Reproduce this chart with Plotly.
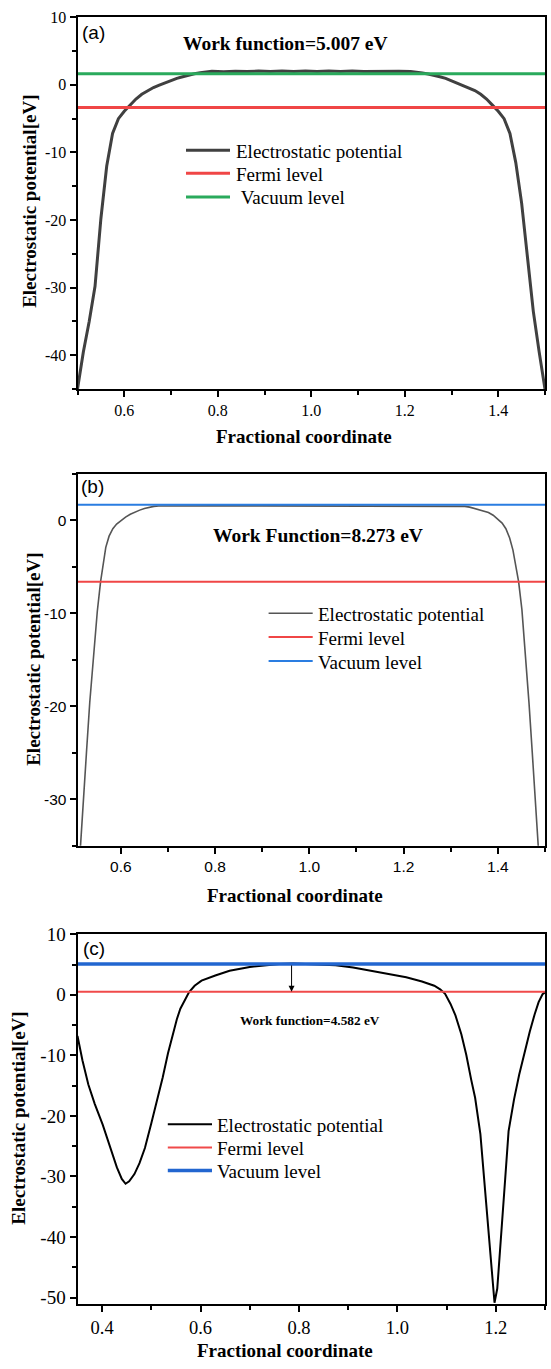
import plotly.graph_objects as go

# ---------------- data ----------------
# panel (a)
xa = [0.500, 0.5125, 0.525, 0.5375, 0.550, 0.5625, 0.575, 0.5875, 0.600, 0.6125,
      0.625, 0.6375, 0.650, 0.6625, 0.675, 0.6875, 0.700, 0.7125, 0.725, 0.7375,
      0.750, 0.7625, 0.775, 0.7875, 0.8125, 0.8375, 0.8625, 0.8875, 0.9125, 0.9375,
      0.9625, 0.9875, 1.0125, 1.0375, 1.0625, 1.0875, 1.1125, 1.1375, 1.1625, 1.1875,
      1.2125, 1.225, 1.2375, 1.250, 1.2625, 1.275, 1.2875, 1.300, 1.3125, 1.325,
      1.3375, 1.350, 1.3625, 1.375, 1.3875, 1.400, 1.4125, 1.425, 1.4375, 1.450,
      1.4625, 1.475, 1.4875, 1.500]
ya = [-45.0, -39.5, -35.0, -29.8, -19.8, -12.0, -7.2, -5.0, -3.9, -3.0,
      -2.1, -1.4, -0.85, -0.4, -0.05, 0.3, 0.6, 0.95, 1.2, 1.45,
      1.65, 1.78, 1.9, 2.0, 1.95, 2.02, 1.96, 2.03, 1.97, 2.04,
      1.97, 2.03, 1.97, 2.03, 1.96, 2.03, 1.97, 2.02, 1.96, 2.02,
      1.98, 1.9, 1.75, 1.6, 1.45, 1.2, 0.95, 0.6, 0.3, -0.05,
      -0.4, -0.85, -1.4, -2.1, -3.0, -3.9, -5.0, -7.2, -11.5, -17.5,
      -25.5, -33.5, -39.5, -45.0]
fermi_a = -3.357
vacuum_a = 1.65
xrange_a = [0.5, 1.5]
yrange_a = [-45, 10]

# panel (b)
xb = [0.510, 0.514, 0.520, 0.527, 0.534, 0.542, 0.550, 0.557, 0.563, 0.568,
      0.575, 0.583, 0.591, 0.600, 0.610, 0.620, 0.630, 0.640, 0.650, 0.660,
      0.670, 0.680, 0.700, 0.800, 0.900, 1.000, 1.100, 1.200, 1.300, 1.320,
      1.330, 1.340, 1.350, 1.360, 1.370, 1.380, 1.390, 1.400, 1.409, 1.417,
      1.425, 1.432, 1.438, 1.444, 1.451, 1.458, 1.466, 1.473, 1.480, 1.486, 1.490]
yb = [-38.5, -35.0, -30.0, -25.0, -19.6, -14.3, -9.8, -6.6, -4.4, -2.9,
      -1.7, -0.9, -0.4, 0.0, 0.35, 0.65, 0.9, 1.1, 1.28, 1.42,
      1.5, 1.55, 1.56, 1.56, 1.56, 1.56, 1.56, 1.56, 1.55, 1.53,
      1.5, 1.42, 1.28, 1.1, 0.95, 0.85, 0.55, 0.15, -0.3, -0.9,
      -1.9, -3.2, -4.8, -6.6, -9.6, -14.0, -19.6, -25.0, -30.0, -35.0, -38.5]
fermi_b = -6.593
vacuum_b = 1.68
xrange_b = [0.508, 1.5]
yrange_b = [-35, 5]

# panel (c)
xc = [0.350, 0.360, 0.372, 0.385, 0.401, 0.415, 0.430, 0.440, 0.4477, 0.455,
      0.4657, 0.476, 0.487, 0.500, 0.512, 0.523, 0.534, 0.5445, 0.552, 0.559,
      0.568, 0.5768, 0.588, 0.602, 0.630, 0.659, 0.700, 0.731, 0.760, 0.7885,
      0.830, 0.8746, 0.910, 0.946, 0.985, 1.018, 1.050, 1.075, 1.087, 1.097,
      1.108, 1.118, 1.130, 1.140, 1.150, 1.158, 1.1687, 1.183, 1.192, 1.1974,
      1.203, 1.2117, 1.219, 1.226, 1.237, 1.2475, 1.258, 1.269, 1.279, 1.287,
      1.295, 1.300]
yc = [-6.8, -10.8, -14.8, -18.0, -21.4, -25.0, -28.5, -30.4, -31.2, -30.8,
      -29.6, -27.8, -25.3, -21.2, -17.5, -13.7, -9.6, -6.1, -4.0, -2.3,
      -0.8, 0.44, 1.5, 2.34, 3.2, 3.98, 4.6, 4.9, 5.1, 5.19,
      5.1, 4.9, 4.5, 3.98, 3.45, 2.9, 2.2, 1.5, 0.9, 0.16,
      -1.5, -3.4, -6.5, -9.9, -14.0, -17.0, -23.0, -36.7, -46.5, -50.85,
      -48.5, -39.4, -30.5, -22.5, -17.3, -13.2, -9.5, -6.1, -3.2, -1.2,
      0.1, 0.4]
fermi_c = 0.518
vacuum_c = 5.10
xrange_c = [0.35, 1.3]
yrange_c = [-51, 10]
arrow_x_c = 0.785

# tick labels
xticks_ab = [0.6, 0.8, 1.0, 1.2, 1.4]
xticks_c = [0.4, 0.6, 0.8, 1.0, 1.2]
yticks_a = [10, 0, -10, -20, -30, -40]
yticks_b = [0, -10, -20, -30]
yticks_c = [10, 0, -10, -20, -30, -40, -50]

names = ["Electrostatic potential", "Fermi level", "Vacuum level"]
labels = ["(a)", "(b)", "(c)"]
wf_texts = ["Work function=5.007 eV", "Work Function=8.273 eV", "Work function=4.582 eV"]
wf_pos = [(0.945, 6.1), (1.019, -1.67), (0.822, -4.2)]
xtitle = "Fractional coordinate"
ytitle = "Electrostatic potential[eV]"

# ---------------- figure ----------------
W, H = 551, 1369
SERIF = "Liberation Serif"
SANS = "Liberation Sans"


def px_x(p):
    return p / W


def px_y(p):
    return 1 - p / H


def fmt_x(v):
    return "%.1f" % v


def fmt_y(v):
    return str(int(v)).replace("\u2212", "-")


fig = go.Figure()

panels = [
    dict(x=xa, y=ya, fermi=fermi_a, vac=vacuum_a, xr=xrange_a, yr=yrange_a,
         ax="x", ay="y", curve="#404040", cw=3,
         red="#f04646", rw=3, vcol="#2aaa5c", vw=3,
         vname="\u00a0" + names[2], xt=xticks_ab, yt=yticks_a),
    dict(x=xb, y=yb, fermi=fermi_b, vac=vacuum_b, xr=xrange_b, yr=yrange_b,
         ax="x2", ay="y2", curve="#555555", cw=1.6,
         red="#f04646", rw=2, vcol="#2a7de1", vw=2, vname=names[2],
         xt=xticks_ab, yt=yticks_b),
    dict(x=xc, y=yc, fermi=fermi_c, vac=vacuum_c, xr=xrange_c, yr=yrange_c,
         ax="x3", ay="y3", curve="#000000", cw=2,
         red="#f04a4a", rw=2, vcol="#2266d0", vw=3.5, vname=names[2],
         xt=xticks_c, yt=yticks_c),
]

for p in panels:
    fig.add_trace(go.Scatter(x=p["x"], y=p["y"], mode="lines", name=names[0],
                             line=dict(color=p["curve"], width=p["cw"]),
                             xaxis=p["ax"], yaxis=p["ay"], showlegend=False))
    fig.add_trace(go.Scatter(x=p["xr"], y=[p["fermi"], p["fermi"]], mode="lines",
                             name=names[1], line=dict(color=p["red"], width=p["rw"]),
                             xaxis=p["ax"], yaxis=p["ay"], showlegend=False))
    fig.add_trace(go.Scatter(x=p["xr"], y=[p["vac"], p["vac"]], mode="lines",
                             name=p["vname"], line=dict(color=p["vcol"], width=p["vw"]),
                             xaxis=p["ax"], yaxis=p["ay"], showlegend=False))

xdom = [px_x(77.5), px_x(545)]
ydoms = [[px_y(383.3), px_y(7.3)], [px_y(845), px_y(469)], [px_y(1308), px_y(934.5)]]
xtickfonts = [dict(family=SERIF, size=16, color="black"),
              dict(family=SANS, size=15.5, color="black"),
              dict(family=SERIF, size=18.5, color="black")]
ytickfonts = [dict(family=SERIF, size=16, color="black"),
              dict(family=SANS, size=15.5, color="black"),
              dict(family=SERIF, size=19, color="black")]


def axis_common(tf):
    return dict(showline=True, linecolor="black", linewidth=2, mirror=True,
                ticks="outside", ticklen=6, tickwidth=1.5, tickcolor="black",
                showgrid=False, zeroline=False, tickfont=tf)


lay = {}
for i, p in enumerate(panels):
    sfx = "" if i == 0 else str(i + 1)
    xa_d = axis_common(xtickfonts[i])
    xa_d.update(domain=xdom, range=p["xr"], tickmode="array",
                tickvals=p["xt"], ticktext=[fmt_x(v) for v in p["xt"]],
                anchor="y" + sfx,
                minor=dict(dtick=0.1, tick0=0, ticks="outside", ticklen=4,
                           tickwidth=1.5, tickcolor="black"))
    ya_d = axis_common(ytickfonts[i])
    ya_d.update(domain=ydoms[i], range=p["yr"], tickmode="array",
                tickvals=p["yt"], ticktext=[fmt_y(v) for v in p["yt"]],
                anchor="x" + sfx,
                minor=dict(dtick=5, tick0=0, ticks="outside", ticklen=4,
                           tickwidth=1.5, tickcolor="black"))
    lay["xaxis" + sfx] = xa_d
    lay["yaxis" + sfx] = ya_d

annotations = []
shapes = []

# manual legends (sample line + label), positioned in pixels of the page
legends = [
    dict(x0=186, x1=230, tx=234, rows=[141.7, 165, 189]),
    dict(x0=268.6, x1=312.7, tx=316, rows=[610, 634, 658.3]),
    dict(x0=167.8, x1=212, tx=215.3, rows=[1126.7, 1150, 1173.3]),
]
for i, lg in enumerate(legends):
    p = panels[i]
    styles = [(p["curve"], p["cw"], names[0]), (p["red"], p["rw"], names[1]),
              (p["vcol"], p["vw"], p["vname"])]
    for (col, wid, nm), ry in zip(styles, lg["rows"]):
        shapes.append(dict(type="line", xref="paper", yref="paper",
                           x0=px_x(lg["x0"]), x1=px_x(lg["x1"]),
                           y0=px_y(ry), y1=px_y(ry),
                           line=dict(color=col, width=wid)))
        annotations.append(dict(text=nm, x=px_x(lg["tx"]), y=px_y(ry + 1),
                                xref="paper", yref="paper", xanchor="left",
                                yanchor="middle", showarrow=False,
                                font=dict(family=SERIF, size=19, color="black")))

lab_pos = [(80, 23), (79, 481.7), (80.7, 949.3)]
for i, (lx, ly) in enumerate(lab_pos):
    annotations.append(dict(text=labels[i], x=px_x(lx), y=px_y(ly), xref="paper",
                            yref="paper", xanchor="left", yanchor="middle",
                            showarrow=False, font=dict(family=SANS, size=19, color="black")))

wf_sizes = [19.5, 19.5, 13.3]
for i, (wx, wy) in enumerate(wf_pos):
    sfx = "" if i == 0 else str(i + 1)
    annotations.append(dict(text="<b>" + wf_texts[i] + "</b>", x=wx, y=wy,
                            xref="x" + sfx, yref="y" + sfx, showarrow=False,
                            xanchor="center", yanchor="middle",
                            font=dict(family=SERIF, size=wf_sizes[i], color="black")))

# arrow in panel (c)
annotations.append(dict(text="", x=arrow_x_c, y=fermi_c, ax=arrow_x_c, ay=vacuum_c,
                        xref="x3", yref="y3", axref="x3", ayref="y3", showarrow=True,
                        arrowhead=2, arrowsize=1.2, arrowwidth=1, arrowcolor="black"))

xt_pos = [(304, 431.7), (295, 895), (285, 1355)]
yt_pos = [(30, 194), (33.5, 656.5), (18.5, 1120.5)]
for i in range(3):
    annotations.append(dict(text="<b>" + xtitle + "</b>", x=px_x(xt_pos[i][0]),
                            y=px_y(xt_pos[i][1]), xref="paper", yref="paper",
                            xanchor="center", yanchor="middle", showarrow=False,
                            font=dict(family=SERIF, size=19, color="black")))
    annotations.append(dict(text="<b>" + ytitle + "</b>", x=px_x(yt_pos[i][0]),
                            y=px_y(yt_pos[i][1]), xref="paper", yref="paper",
                            xanchor="center", yanchor="middle", showarrow=False,
                            textangle=-90,
                            font=dict(family=SERIF, size=19, color="black")))

fig.update_layout(width=W, height=H, margin=dict(l=0, r=0, t=0, b=0),
                  paper_bgcolor="white", plot_bgcolor="white",
                  showlegend=False, annotations=annotations, shapes=shapes, **lay)

fig.write_html("out.html")
